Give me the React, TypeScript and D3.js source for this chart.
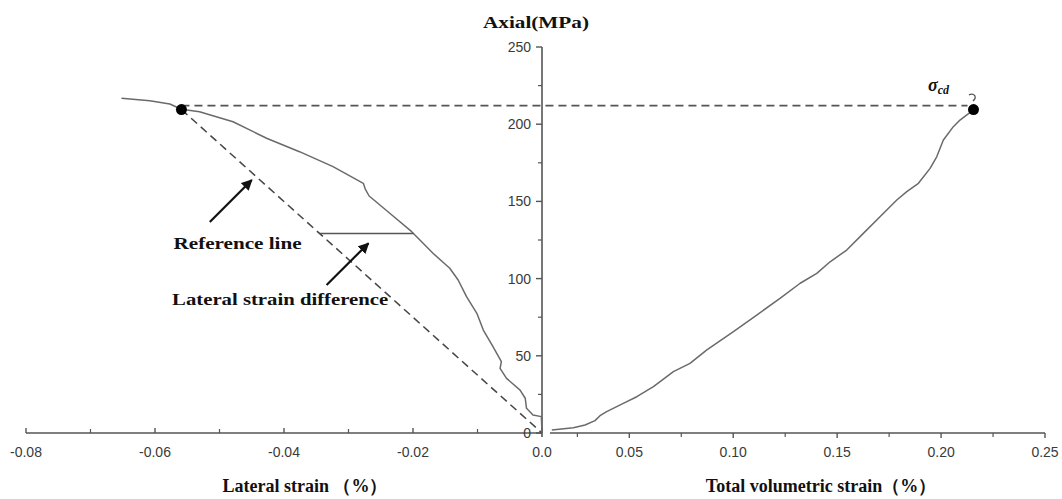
import React from "react";
import * as d3 from "d3";

// Lateral strain (%) vs axial stress (MPa)
const lateralStrain = [-0.0652, -0.0608, -0.0577, -0.0559, -0.0531, -0.0479, -0.0427, -0.0376, -0.0324, -0.0277, -0.0274, -0.0268, -0.0236, -0.0202, -0.0169, -0.0143, -0.013, -0.0117, -0.0101, -0.0091, -0.0076, -0.0063, -0.0065, -0.0055, -0.0034, -0.0026, -0.0024, -0.0014, -0.0001, 0];
const lateralStress = [216.8, 215.2, 213.1, 209.7, 208.1, 201.6, 190.9, 182.2, 172.5, 161.7, 158.0, 153.5, 142.3, 130.4, 116.4, 106.7, 99.1, 88.3, 77.5, 66.7, 55.9, 46.2, 41.9, 35.4, 27.8, 22.5, 16.0, 11.7, 10.6, 0];

// Total volumetric strain (%) vs axial stress (MPa)
const volStrain = [0.0127, 0.0231, 0.0287, 0.0335, 0.0359, 0.0391, 0.0471, 0.0536, 0.0616, 0.0712, 0.0792, 0.0873, 0.1001, 0.1113, 0.1225, 0.1322, 0.1402, 0.1466, 0.1546, 0.1626, 0.1706, 0.1787, 0.1835, 0.1891, 0.1947, 0.1979, 0.2011, 0.2059, 0.2091, 0.2124, 0.2156];
const volStress = [1.9, 3.4, 5.2, 8.0, 11.2, 13.8, 19.2, 23.5, 30.0, 39.7, 45.1, 53.8, 65.6, 76.4, 87.2, 97.0, 103.4, 110.9, 118.5, 129.3, 140.1, 150.9, 156.3, 161.7, 171.4, 178.9, 189.8, 198.4, 202.7, 206.0, 209.2];

// Key points
const refPoint = { strain: -0.0559, stress: 209.5 };
const cdPoint = { strain: 0.2156, stress: 209.5 };
const cdLevel = 212;
const diffStress = 129.2;

// Axis ticks
const yTicks = [0, 50, 100, 150, 200, 250];
const yMinorTicks = [25, 75, 125, 175, 225];
const leftTicks = [-0.08, -0.06, -0.04, -0.02, 0];
const leftTickLabels = ["-0.08", "-0.06", "-0.04", "-0.02", "0.0"];
const leftMinorTicks = [-0.07, -0.05, -0.03, -0.01];
const rightTicks = [0.05, 0.1, 0.15, 0.2, 0.25];
const rightTickLabels = ["0.05", "0.10", "0.15", "0.20", "0.25"];
const rightMinorTicks = [0.025, 0.075, 0.125, 0.175, 0.225];

// Annotations (data coordinates of left panel)
const arrows = [
  { from: [-0.0515, 136.7], to: [-0.045, 163.9] },
  { from: [-0.0334, 95.9], to: [-0.0269, 122.9] },
];
const notes = [
  { text: "Reference line", x: -0.0472, y: 119, len: 128 },
  { text: "Lateral strain difference", x: -0.0406, y: 82.9, len: 216 },
];

export default function App() {
  const W = 1062, H = 499;
  const y = d3.scaleLinear().domain([0, 250]).range([433, 47]);
  const xL = d3.scaleLinear().domain([-0.08, 0]).range([26, 542]);
  const xR = d3.scaleLinear().domain([0, 0.25]).range([525.4, 1045]);

  const latPts = lateralStrain.map((s, i) => [s, lateralStress[i]] as [number, number]);
  const volPts = volStrain.map((s, i) => [s, volStress[i]] as [number, number]);
  const lineL = d3.line<[number, number]>().x(d => xL(d[0])).y(d => y(d[1]));
  const lineR = d3.line<[number, number]>().x(d => xR(d[0])).y(d => y(d[1]));

  // difference line endpoints
  const refX = refPoint.strain * diffStress / refPoint.stress;
  let curveX = 0;
  for (let i = 0; i < latPts.length - 1; i++) {
    const [x0, y0] = latPts[i], [x1, y1] = latPts[i + 1];
    if ((y0 - diffStress) * (y1 - diffStress) <= 0 && y0 !== y1) {
      curveX = x0 + (x1 - x0) * (diffStress - y0) / (y1 - y0);
      break;
    }
  }

  const axisColor = "#555";
  const curveColor = "#6a6a6a";
  const x0 = xL(0);
  const axisY = y(0);
  const sans = "'Liberation Sans', Arial, sans-serif";
  const serif = "'Liberation Serif', 'Times New Roman', serif";

  return (
    <svg width={W} height={H} style={{ position: "absolute", left: 0, top: 0, background: "#fff" }}>
      <defs>
        <marker id="ah" viewBox="0 0 10 10" refX="9" refY="5" markerWidth="5" markerHeight="5" orient="auto" markerUnits="strokeWidth">
          <path d="M0,0 L10,5 L0,10 z" fill="#111" />
        </marker>
      </defs>

      {/* Left x axis */}
      <line x1={xL(-0.08)} x2={x0} y1={axisY} y2={axisY} stroke={axisColor} strokeWidth={1.6} />
      {leftTicks.map(t => (
        <line key={"lt" + t} x1={xL(t)} x2={xL(t)} y1={axisY} y2={axisY - 5} stroke={axisColor} strokeWidth={1.4} />
      ))}
      {leftMinorTicks.map(t => (
        <line key={"lm" + t} x1={xL(t)} x2={xL(t)} y1={axisY} y2={axisY - 4} stroke={axisColor} strokeWidth={1.2} />
      ))}
      {leftTicks.map((t, i) => (
        <text key={"ll" + t} x={xL(t)} y={457} textAnchor="middle" fontFamily={sans} fontSize={14} fill="#3a3a3a">{leftTickLabels[i]}</text>
      ))}

      {/* Right x axis */}
      <line x1={550} x2={xR(0.25)} y1={axisY} y2={axisY} stroke={axisColor} strokeWidth={1.6} />
      {rightTicks.map(t => (
        <line key={"rt" + t} x1={xR(t)} x2={xR(t)} y1={axisY} y2={axisY + 5} stroke={axisColor} strokeWidth={1.4} />
      ))}
      {rightMinorTicks.map(t => (
        <line key={"rm" + t} x1={xR(t)} x2={xR(t)} y1={axisY} y2={axisY + 4} stroke={axisColor} strokeWidth={1.2} />
      ))}
      {rightTicks.map((t, i) => (
        <text key={"rl" + t} x={xR(t)} y={457} textAnchor="middle" fontFamily={sans} fontSize={14} fill="#3a3a3a">{rightTickLabels[i]}</text>
      ))}

      {/* Y axis */}
      <line x1={x0} x2={x0} y1={y(250)} y2={axisY + 4} stroke={axisColor} strokeWidth={1.6} />
      {yTicks.map(t => (
        <line key={"yt" + t} x1={x0 - 6} x2={x0} y1={y(t)} y2={y(t)} stroke={axisColor} strokeWidth={1.4} />
      ))}
      {yMinorTicks.map(t => (
        <line key={"ym" + t} x1={x0 - 4} x2={x0} y1={y(t)} y2={y(t)} stroke={axisColor} strokeWidth={1.2} />
      ))}
      {yTicks.map(t => (
        <text key={"yl" + t} x={x0 - 11} y={y(t) + 5} textAnchor="end" fontFamily={sans} fontSize={14} fill="#3a3a3a">{t}</text>
      ))}

      {/* Reference (dashed) lines */}
      <line x1={xL(refPoint.strain)} y1={y(refPoint.stress)} x2={xL(0)} y2={y(0)} stroke="#444" strokeWidth={1.5} strokeDasharray="8 5" />
      <line x1={xL(refPoint.strain)} y1={y(cdLevel)} x2={xR(cdPoint.strain) - 6} y2={y(cdLevel)} stroke="#555" strokeWidth={1.6} strokeDasharray="8 5" />

      {/* Curves */}
      <path d={lineL(latPts) || ""} fill="none" stroke={curveColor} strokeWidth={1.5} strokeLinejoin="round" />
      <path d={lineR(volPts) || ""} fill="none" stroke={curveColor} strokeWidth={1.5} strokeLinejoin="round" />

      {/* Lateral strain difference segment */}
      <line x1={xL(refX)} x2={xL(curveX)} y1={y(diffStress)} y2={y(diffStress)} stroke="#555" strokeWidth={1.6} />

      {/* Points */}
      <circle cx={xL(refPoint.strain)} cy={y(refPoint.stress)} r={5.5} fill="#000" />
      <circle cx={xR(cdPoint.strain)} cy={y(cdPoint.stress)} r={5.5} fill="#000" />

      {/* sigma_cd label */}
      <text x={xR(0.1937)} y={y(221.5)} fontFamily={serif} fontStyle="italic" fontWeight="bold" fontSize={18} fill="#111">
        σ<tspan fontSize={12} dy={3}>cd</tspan>
      </text>
      <path d={`M${xR(0.2134)},${y(219)} q4,-2 6,1 q1,3 -2,5`} fill="none" stroke="#555" strokeWidth={1.3} />

      {/* Arrows */}
      {arrows.map((a, i) => (
        <line key={"ar" + i} x1={xL(a.from[0])} y1={y(a.from[1])} x2={xL(a.to[0])} y2={y(a.to[1])} stroke="#111" strokeWidth={2.2} markerEnd="url(#ah)" />
      ))}
      {notes.map((n, i) => (
        <text key={"n" + i} x={xL(n.x)} y={y(n.y)} textAnchor="middle" fontFamily={serif} fontWeight="bold" fontSize={17} fill="#111" textLength={n.len} lengthAdjust="spacingAndGlyphs">{n.text}</text>
      ))}

      {/* Titles */}
      <text x={536} y={28} textAnchor="middle" fontFamily={serif} fontWeight="bold" fontSize={17} fill="#111" textLength={106} lengthAdjust="spacingAndGlyphs">Axial(MPa)</text>
      <text x={305} y={492} textAnchor="middle" fontFamily={serif} fontWeight="bold" fontSize={18} fill="#111">Lateral strain （%）</text>
      <text x={821} y={492} textAnchor="middle" fontFamily={serif} fontWeight="bold" fontSize={18} fill="#111">Total volumetric strain（%）</text>
    </svg>
  );
}
